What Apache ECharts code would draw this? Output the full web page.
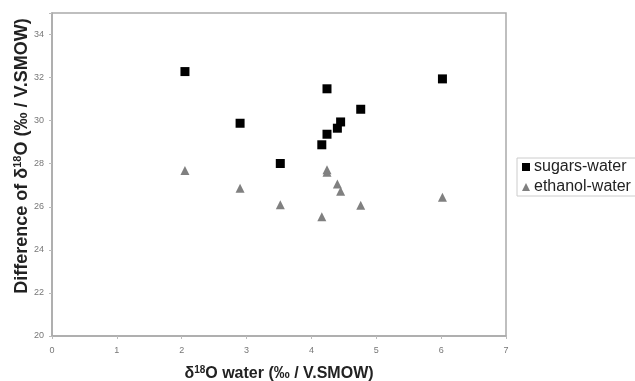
<!DOCTYPE html>
<html><head><meta charset="utf-8">
<script src="https://cdn.jsdelivr.net/npm/echarts@6/dist/echarts.min.js"></script>
<style>html,body{margin:0;padding:0;background:#fff}#c{width:635px;height:381px}</style>
</head><body><div id="c"></div>
<script>
const sugarsX = [2.05, 2.90, 3.52, 4.16, 4.24, 4.24, 4.40, 4.45, 4.76, 6.02];
const sugarsY = [32.28, 29.88, 28.01, 28.88, 29.37, 31.48, 29.65, 29.94, 30.53, 31.94];
const ethanolX = [2.05, 2.90, 3.52, 4.16, 4.24, 4.24, 4.40, 4.45, 4.76, 6.02];
const ethanolY = [27.68, 26.86, 26.10, 25.54, 27.60, 27.72, 27.06, 26.72, 26.07, 26.44];
const seriesNames = ['sugars-water', 'ethanol-water'];

const chart = echarts.init(document.getElementById('c'), null, {renderer: 'canvas'});
const pts = (xs, ys) => xs.map((x, i) => [x, ys[i]]);
const axisLineStyle = {color: '#aaaaaa', width: 1.5};
const F = 'Liberation Sans, Arial';
chart.setOption({
  animation: false,
  backgroundColor: '#fff',
  grid: {left: 52, right: 129, top: 13, bottom: 45, show: true, borderColor: '#aaaaaa', borderWidth: 1.5,
         containLabel: false, outerBoundsMode: 'none'},
  legend: {
    orient: 'vertical', left: 517, top: 158,
    padding: [1, 6, 1, 5], itemGap: 4, itemWidth: 8, itemHeight: 8,
    borderColor: '#cccccc', borderWidth: 1, borderRadius: 0,
    textStyle: {fontFamily: F, fontSize: 16, color: '#222', padding: [0, 0, 0, -1]},
    data: [{name: seriesNames[0], icon: 'rect'}, {name: seriesNames[1], icon: 'triangle'}]
  },
  xAxis: {
    type: 'value', min: 0, max: 7, interval: 1,
    axisLine: {onZero: false, lineStyle: axisLineStyle},
    axisTick: {show: true, length: 3, lineStyle: {color: '#bbbbbb'}},
    splitLine: {show: false},
    axisLabel: {color: '#777', fontSize: 9, fontFamily: F, margin: 10},
    name: '{d|δ}{s|18}{d|O water (‰ / V.SMOW)}', nameLocation: 'middle', nameGap: 29,
    nameTextStyle: {rich: {
      d: {fontSize: 16, fontWeight: 'bold', fontFamily: F, color: '#222'},
      s: {fontSize: 10, fontWeight: 'bold', fontFamily: F, color: '#222', verticalAlign: 'bottom', padding: [0, 0, 8, 0]}
    }}
  },
  yAxis: {
    type: 'value', min: 20, max: 35, interval: 2,
    axisLine: {onZero: false, lineStyle: axisLineStyle},
    axisTick: {show: true, length: 3, lineStyle: {color: '#bbbbbb'}},
    splitLine: {show: false},
    axisLabel: {color: '#777', fontSize: 9, fontFamily: F, margin: 8,
      formatter: v => (v > 34 ? '' : String(v))},
    name: '{d|Difference of δ}{s|18}{d|O (‰ / V.SMOW)}', nameLocation: 'middle', nameGap: 20, nameRotate: 90,
    nameMoveOverlap: false,
    nameTextStyle: {padding: [0, 0, 0, 37], rich: {
      d: {fontSize: 18, fontWeight: 'bold', fontFamily: F, color: '#222'},
      s: {fontSize: 11, fontWeight: 'bold', fontFamily: F, color: '#222', verticalAlign: 'bottom', padding: [0, 0, 9, 0]}
    }}
  },
  series: [
    {name: seriesNames[0], type: 'scatter', symbol: 'rect', symbolSize: 9,
     itemStyle: {color: '#000000', opacity: 1}, data: pts(sugarsX, sugarsY)},
    {name: seriesNames[1], type: 'scatter', symbol: 'triangle', symbolSize: 9,
     itemStyle: {color: '#808080', opacity: 1}, data: pts(ethanolX, ethanolY)}
  ]
});
</script></body></html>
